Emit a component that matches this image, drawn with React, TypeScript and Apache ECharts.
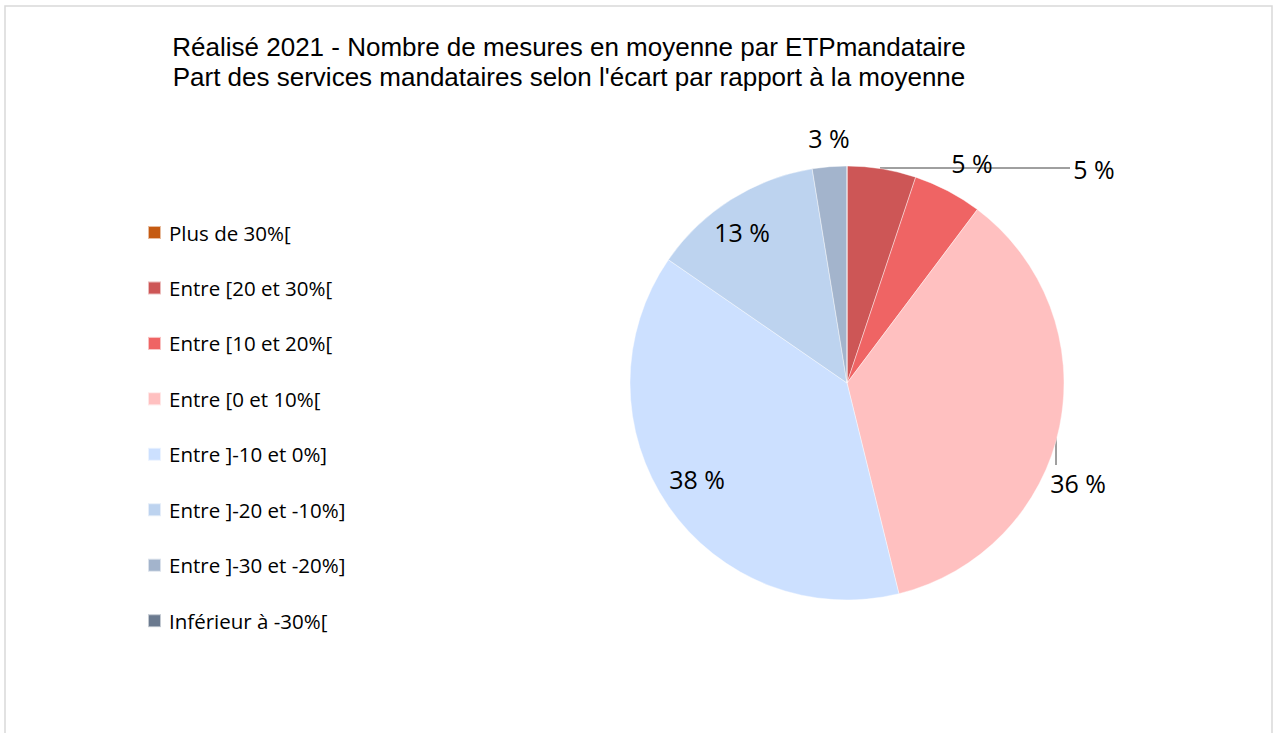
import React, { useEffect, useRef } from "react";
import * as echarts from "echarts";

const titleLines = [
  "Réalisé 2021 - Nombre de mesures en moyenne par ETPmandataire",
  "Part des services mandataires selon l'écart par rapport à la moyenne",
];
const categories = [
  "Plus de 30%[",
  "Entre [20 et 30%[",
  "Entre [10 et 20%[",
  "Entre [0 et 10%[",
  "Entre ]-10 et 0%]",
  "Entre ]-20 et -10%]",
  "Entre ]-30 et -20%]",
  "Inférieur à -30%[",
];
// number of services per category
const counts = [0, 2, 2, 14, 15, 5, 1, 0];
const colors = [
  "#C55A11",
  "#CD5656",
  "#EF6464",
  "#FFC0C0",
  "#CCE0FF",
  "#BDD3EF",
  "#A3B4CC",
  "#6B7A8F",
];

const FONT = "'Open Sans', Lato, sans-serif";
const TITLE_FONT = "'Liberation Sans', Arial, sans-serif";
const CX = 847;
const CY = 383;
const R = 217;

// label placement offsets relative to pie centre (dx, dy) and leader line
const labelSpots: Record<number, { dx: number; dy: number; line?: number[][] }> = {
  1: { dx: 247, dy: -214, line: [[33, -215], [223, -215], [223, -215]] },
  2: { dx: 125, dy: -220 },
  3: { dx: 231, dy: 100, line: [[209, 45], [209, 82], [209, 82]] },
  4: { dx: -150, dy: 96 },
  5: { dx: -105, dy: -151 },
  6: { dx: -18, dy: -245 },
};

export default function App() {
  const ref = useRef<HTMLDivElement>(null);
  useEffect(() => {
    document.body.style.margin = "0";
    if (!ref.current) return;
    const chart = echarts.init(ref.current, null, { renderer: "svg" });
    const total = counts.reduce((a, b) => a + b, 0);
    chart.setOption({
      animation: false,
      backgroundColor: "#ffffff",
      title: titleLines.map((t, i) => ({
        text: t,
        left: 569,
        top: 33 + i * 30,
        textAlign: "center",
        padding: 0,
        textStyle: {
          fontFamily: TITLE_FONT,
          fontSize: 26,
          fontWeight: "normal",
          color: "#000000",
          lineHeight: 28,
        },
      })),
      graphic: [
        {
          type: "rect",
          shape: { x: 5, y: 6, width: 1267, height: 740 },
          style: { fill: "none", stroke: "#D9D9D9", lineWidth: 1.5 },
          silent: true,
        },
      ],
      legend: {
        orient: "vertical",
        left: 142,
        top: 217,
        itemWidth: 13,
        itemHeight: 13,
        itemGap: 34.45,
        icon: "rect",
        data: categories,
        textStyle: {
          fontFamily: FONT,
          fontSize: 20.5,
          color: "#000000",
          padding: [0, 0, 0, 3],
        },
        selectedMode: false,
      },
      series: [
        {
          type: "pie",
          center: [CX, CY],
          radius: R,
          startAngle: 90,
          clockwise: true,
          avoidLabelOverlap: false,
          data: categories.map((name, i) => ({
            name,
            value: counts[i],
            itemStyle: { color: colors[i] },
            label: { show: counts[i] > 0 },
            labelLine: { show: !!(labelSpots[i] && labelSpots[i].line) },
          })),
          itemStyle: { borderColor: "rgba(255,255,255,0.6)", borderWidth: 0.7 },
          label: {
            position: "outside",
            formatter: (p: any) => `${Math.round((p.value / total) * 100)} %`,
            fontFamily: FONT,
            fontSize: 25,
            color: "#000000",
          },
          labelLine: {
            lineStyle: { color: "#404040", width: 1 },
          },
          labelLayout: (params: any) => {
            const s = labelSpots[params.dataIndex];
            if (!s) return {};
            const out: any = {
              x: CX + s.dx,
              y: CY + s.dy,
              align: "center",
              verticalAlign: "middle",
            };
            if (s.line) {
              out.labelLinePoints = s.line.map((p) => [CX + p[0], CY + p[1]]);
            }
            return out;
          },
        },
      ],
    });
    return () => chart.dispose();
  }, []);
  return <div ref={ref} style={{ width: 1274, height: 733 }} />;
}
